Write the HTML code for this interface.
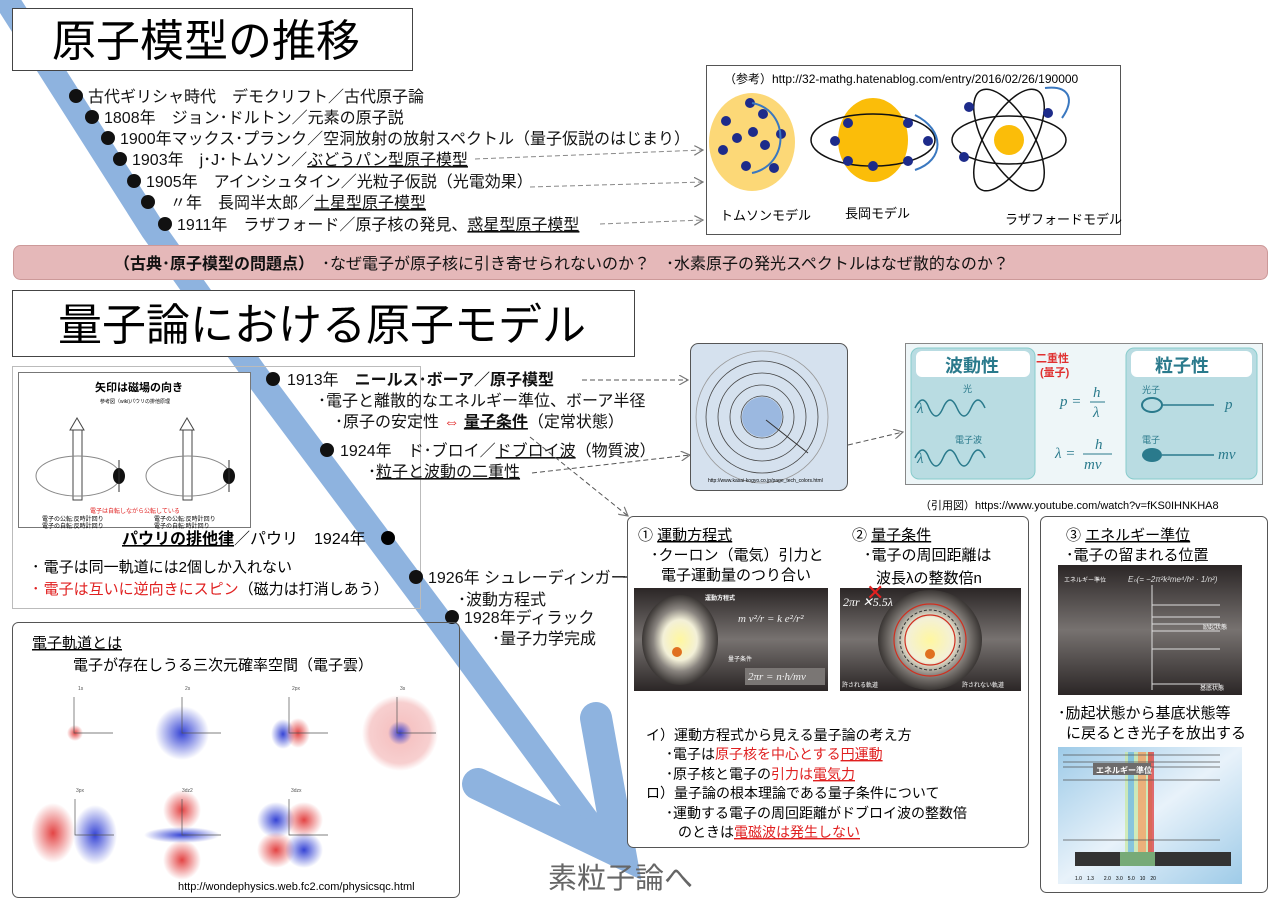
<!DOCTYPE html>
<html><head><meta charset="utf-8">
<style>
html,body{margin:0;padding:0;background:#fff;}
svg{display:block;font-family:"Liberation Sans","Noto Sans CJK JP",sans-serif;}
</style></head><body>
<svg width="1280" height="904" viewBox="0 0 1280 904" xmlns="http://www.w3.org/2000/svg">
<defs>
<radialGradient id="gy" cx="50%" cy="50%" r="50%"><stop offset="0" stop-color="#fff7a0"/><stop offset="0.45" stop-color="#f3f0d8"/><stop offset="0.7" stop-color="#8a8580"/><stop offset="1" stop-color="#3a3634"/></radialGradient>
<linearGradient id="dk" x1="0" y1="0" x2="0" y2="1"><stop offset="0" stop-color="#2b2626"/><stop offset="0.5" stop-color="#777270"/><stop offset="1" stop-color="#2b2626"/></linearGradient>
<linearGradient id="sp" x1="0" y1="0" x2="1" y2="1"><stop offset="0" stop-color="#9ecbe8"/><stop offset="0.5" stop-color="#e8f2fa"/><stop offset="1" stop-color="#9ecbe8"/></linearGradient>
<radialGradient id="rb" r="50%"><stop offset="0" stop-color="#e03030" stop-opacity="0.9"/><stop offset="1" stop-color="#e03030" stop-opacity="0"/></radialGradient>
<radialGradient id="bb" r="50%"><stop offset="0" stop-color="#2030d0" stop-opacity="0.9"/><stop offset="1" stop-color="#2030d0" stop-opacity="0"/></radialGradient>
<radialGradient id="rs" r="50%"><stop offset="0" stop-color="#e04040" stop-opacity="0.35"/><stop offset="0.8" stop-color="#e04040" stop-opacity="0.25"/><stop offset="1" stop-color="#e04040" stop-opacity="0"/></radialGradient>
<marker id="ah" markerWidth="10" markerHeight="10" refX="9" refY="5" orient="auto"><path d="M0,0 L9,5 L0,10" fill="none" stroke="#777" stroke-width="1.2"/></marker>
</defs>

<!-- blue timeline band -->
<polyline points="4,-4 153,230 256,375 437,617 605,845" fill="none" stroke="#8eb3df" stroke-width="25" stroke-linejoin="round"/>
<polyline points="478,784 620,852 596,718" fill="none" stroke="#8eb3df" stroke-width="32" stroke-linecap="round" stroke-linejoin="miter"/>

<!-- title 1 -->
<rect x="12.5" y="8.5" width="400" height="62" fill="#fff" stroke="#444"/>
<text x="52" y="56" font-size="44">原子模型の推移</text>

<g font-size="16" fill="#111">
<circle cx="76" cy="96" r="7"/><text x="88" y="102">古代ギリシャ時代　デモクリフト／古代原子論</text>
<circle cx="92" cy="117" r="7"/><text x="104" y="123">1808年　ジョン･ドルトン／元素の原子説</text>
<circle cx="108" cy="138" r="7"/><text x="120" y="144">1900年マックス･プランク／空洞放射の放射スペクトル（量子仮説のはじまり）</text>
<circle cx="120" cy="159" r="7"/><text x="132" y="165">1903年　j･J･トムソン／<tspan text-decoration="underline">ぶどうパン型原子模型</tspan></text>
<circle cx="134" cy="181" r="7"/><text x="146" y="187">1905年　アインシュタイン／光粒子仮説（光電効果）</text>
<circle cx="148" cy="202" r="7"/><text x="170" y="208">〃年　長岡半太郎／<tspan text-decoration="underline">土星型原子模型</tspan></text>
<circle cx="165" cy="224" r="7"/><text x="177" y="230">1911年　ラザフォード／原子核の発見、<tspan text-decoration="underline">惑星型原子模型</tspan></text>
</g>
<g stroke="#888" stroke-dasharray="5,3" fill="none" marker-end="url(#ah)">
<line x1="475" y1="159" x2="703" y2="150"/>
<line x1="530" y1="187" x2="703" y2="182"/>
<line x1="600" y1="224" x2="703" y2="220"/>
</g>

<!-- reference box -->
<rect x="706.5" y="65.5" width="414" height="169" fill="#fff" stroke="#555"/>
<text x="724" y="83" font-size="12">（参考）http://32-mathg.hatenablog.com/entry/2016/02/26/190000</text>
<ellipse cx="752" cy="142" rx="43" ry="49" fill="#fcd877"/>
<g fill="#1d2b8a">
<circle cx="750" cy="103" r="5"/><circle cx="763" cy="114" r="5"/><circle cx="726" cy="121" r="5"/><circle cx="753" cy="132" r="5"/><circle cx="737" cy="138" r="5"/><circle cx="765" cy="145" r="5"/><circle cx="781" cy="134" r="5"/><circle cx="723" cy="150" r="5"/><circle cx="746" cy="166" r="5"/><circle cx="774" cy="168" r="5"/>
</g>
<path d="M752,103 C790,110 790,165 752,173" fill="none" stroke="#3a78c0" stroke-width="2"/>
<ellipse cx="873" cy="140" rx="35" ry="42" fill="#fbbd09"/>
<ellipse cx="873" cy="140" rx="62" ry="26" fill="none" stroke="#111" stroke-width="1.5"/>
<g fill="#1d2b8a"><circle cx="835" cy="141" r="5"/><circle cx="848" cy="123" r="5"/><circle cx="908" cy="123" r="5"/><circle cx="928" cy="141" r="5"/><circle cx="848" cy="161" r="5"/><circle cx="873" cy="166" r="5"/><circle cx="908" cy="161" r="5"/></g>
<path d="M915,115 C945,130 945,160 915,170" fill="none" stroke="#3a78c0" stroke-width="2"/>
<g fill="none" stroke="#111" stroke-width="1.5">
<ellipse cx="1009" cy="140" rx="57" ry="24"/>
<ellipse cx="1009" cy="140" rx="57" ry="24" transform="rotate(60 1009 140)"/>
<ellipse cx="1009" cy="140" rx="57" ry="24" transform="rotate(-60 1009 140)"/>
</g>
<circle cx="1009" cy="140" r="15" fill="#fbbd09"/>
<g fill="#1d2b8a"><circle cx="969" cy="107" r="5"/><circle cx="1048" cy="113" r="5"/><circle cx="964" cy="157" r="5"/></g>
<path d="M1045,88 C1070,85 1075,100 1062,118" fill="none" stroke="#3a78c0" stroke-width="2"/>
<g font-size="13"><text x="720" y="220">トムソンモデル</text><text x="845" y="218">長岡モデル</text><text x="1005" y="224">ラザフォードモデル</text></g>

<!-- pink bar -->
<rect x="13.5" y="245.5" width="1254" height="34" rx="7" fill="#e5b8b9" stroke="#c99"/>
<text x="114" y="269" font-size="16" fill="#111"><tspan font-weight="bold">（古典･原子模型の問題点）</tspan>　･なぜ電子が原子核に引き寄せられないのか？　･水素原子の発光スペクトルはなぜ散的なのか？</text>

<!-- title 2 -->
<rect x="12.5" y="290.5" width="622" height="66" fill="#fff" stroke="#444"/>
<text x="58" y="340" font-size="44">量子論における原子モデル</text>

<!-- Pauli box -->
<rect x="12.5" y="366.5" width="408" height="242" fill="none" stroke="#bbb"/>
<rect x="18.5" y="372.5" width="232" height="155" fill="#fff" stroke="#777"/>
<text x="95" y="391" font-size="11" font-weight="bold">矢印は磁場の向き</text>
<text x="100" y="403" font-size="5">参考図（wiki)パウリの排他原理</text>
<g fill="#fff" stroke="#444"><rect x="73" y="428" width="9" height="72"/><path d="M70,430 L77,418 L84,430 Z"/><rect x="183" y="428" width="9" height="72"/><path d="M180,430 L187,418 L194,430 Z"/></g>
<ellipse cx="78" cy="476" rx="42" ry="20" fill="none" stroke="#888"/>
<ellipse cx="188" cy="476" rx="42" ry="20" fill="none" stroke="#888"/>
<ellipse cx="119" cy="476" rx="6" ry="8" fill="#111"/><ellipse cx="229" cy="476" rx="6" ry="8" fill="#111"/>
<line x1="119" y1="460" x2="119" y2="492" stroke="#333"/><line x1="229" y1="460" x2="229" y2="492" stroke="#333"/>
<text x="90" y="513" font-size="6" fill="#e02020">電子は自転しながら公転している</text>
<g font-size="6"><text x="42" y="521">電子の公転:反時計回り</text><text x="154" y="521">電子の公転:反時計回り</text><text x="42" y="528">電子の自転:反時計回り</text><text x="154" y="528">電子の自転:時計回り</text></g>
<text x="122" y="544" font-size="16"><tspan font-weight="bold" text-decoration="underline">パウリの排他律</tspan>／パウリ　1924年</text>
<circle cx="388" cy="538" r="7"/>
<text x="32" y="572" font-size="15">･ 電子は同一軌道には2個しか入れない</text>
<text x="32" y="594" font-size="15"><tspan fill="#e02020">･ 電子は互いに逆向きにスピン</tspan>（磁力は打消しあう）</text>

<!-- Bohr section -->
<g font-size="16" fill="#111">
<circle cx="273" cy="379" r="7"/><text x="287" y="385">1913年　<tspan font-weight="bold">ニールス･ボーア／原子模型</tspan></text>
<text x="318" y="406">･電子と離散的なエネルギー準位、ボーア半径</text>
<text x="335" y="427">･原子の安定性 <tspan fill="#e02020">⇔</tspan> <tspan font-weight="bold" text-decoration="underline">量子条件</tspan>（定常状態）</text>
<circle cx="327" cy="450" r="7"/><text x="340" y="456">1924年　ド･ブロイ／<tspan text-decoration="underline">ドブロイ波</tspan>（物質波）</text>
<text x="368" y="477">･<tspan text-decoration="underline">粒子と波動の二重性</tspan></text>
<circle cx="416" cy="577" r="7"/><text x="428" y="583">1926年 シュレーディンガー</text>
<text x="458" y="605">･波動方程式</text>
<circle cx="452" cy="617" r="7"/><text x="464" y="623">1928年ディラック</text>
<text x="492" y="644">･量子力学完成</text>
</g>
<line x1="623" y1="577" x2="630" y2="577" stroke="#333" stroke-width="1.5"/>
<g stroke="#555" stroke-dasharray="5,3" fill="none" marker-end="url(#ah)">
<line x1="582" y1="380" x2="688" y2="380"/>
<line x1="532" y1="473" x2="690" y2="455"/>
<line x1="848" y1="445" x2="903" y2="432"/>
<line x1="530" y1="437" x2="628" y2="516"/>
</g>

<!-- Bohr image -->
<rect x="690.5" y="343.5" width="157" height="147" rx="8" fill="#d5e1ee" stroke="#555"/>
<g fill="none" stroke="#444" stroke-width="0.8"><circle cx="762" cy="417" r="21"/><circle cx="762" cy="417" r="32"/><circle cx="762" cy="417" r="44"/><circle cx="762" cy="417" r="56"/><circle cx="762" cy="417" r="66" stroke="#999"/></g>
<circle cx="762" cy="417" r="20" fill="#9bb8e0"/>
<line x1="766" y1="420" x2="808" y2="453" stroke="#333"/>
<text x="708" y="482" font-size="5">http://www.kasai-kogyo.co.jp/page_tech_colors.html</text>

<!-- duality image -->
<rect x="905.5" y="343.5" width="357" height="141" fill="#eef6f8" stroke="#888"/>
<rect x="911" y="348" width="124" height="131" rx="8" fill="#b9dce2" stroke="#8cc"/>
<rect x="1126" y="348" width="131" height="131" rx="8" fill="#b9dce2" stroke="#8cc"/>
<rect x="916" y="351" width="114" height="26" rx="6" fill="#fff"/>
<rect x="1131" y="351" width="121" height="26" rx="6" fill="#fff"/>
<text x="945" y="372" font-size="18" font-weight="bold" fill="#2a7a8c">波動性</text>
<text x="1155" y="372" font-size="18" font-weight="bold" fill="#2a7a8c">粒子性</text>
<text x="1036" y="362" font-size="11" font-weight="bold" fill="#e03030">二重性</text>
<text x="1040" y="376" font-size="11" font-weight="bold" fill="#e03030">(量子)</text>
<g fill="none" stroke="#2a7a8c" stroke-width="1.5"><path d="M915,408 q8,-16 14,0 q7,16 14,0 q7,-16 14,0 q7,16 14,0 q7,-16 14,0"/><path d="M915,458 q8,-16 14,0 q7,16 14,0 q7,-16 14,0 q7,16 14,0 q7,-16 14,0"/></g>
<g font-family="Liberation Serif,serif" font-style="italic" fill="#2a7a8c" font-size="15">
<text x="917" y="413">λ</text><text x="917" y="463">λ</text>
<text x="1060" y="406">p =</text><text x="1093" y="397">h</text><line x1="1090" y1="402" x2="1105" y2="402" stroke="#2a7a8c"/><text x="1093" y="417">λ</text>
<text x="1055" y="458">λ =</text><text x="1095" y="449">h</text><line x1="1083" y1="454" x2="1112" y2="454" stroke="#2a7a8c"/><text x="1084" y="469">mv</text>
<text x="1225" y="409">p</text><text x="1218" y="459">mv</text>
</g>
<text x="963" y="392" font-size="9" fill="#2a7a8c">光</text><text x="955" y="443" font-size="9" fill="#2a7a8c">電子波</text>
<text x="1142" y="393" font-size="9" fill="#2a7a8c">光子</text><text x="1142" y="443" font-size="9" fill="#2a7a8c">電子</text>
<ellipse cx="1152" cy="405" rx="10" ry="7" fill="none" stroke="#2a7a8c" stroke-width="2"/><line x1="1162" y1="405" x2="1214" y2="405" stroke="#2a7a8c" stroke-width="1.5"/>
<ellipse cx="1152" cy="455" rx="10" ry="7" fill="#2a7a8c"/><line x1="1162" y1="455" x2="1214" y2="455" stroke="#2a7a8c" stroke-width="1.5"/>
<text x="920" y="509" font-size="11">（引用図）https://www.youtube.com/watch?v=fKS0IHNKHA8</text>

<!-- box 1/2 -->
<rect x="627.5" y="516.5" width="401" height="331" rx="6" fill="#fff" stroke="#555"/>
<g font-size="15">
<text x="638" y="540">① <tspan text-decoration="underline">運動方程式</tspan></text>
<text x="651" y="560">･クーロン（電気）引力と</text>
<text x="661" y="580">電子運動量のつり合い</text>
<text x="852" y="540">② <tspan text-decoration="underline">量子条件</tspan></text>
<text x="864" y="560">･電子の周回距離は</text>
<text x="876" y="583">波長λの整数倍n</text>
</g>
<rect x="634" y="588" width="194" height="103" fill="url(#dk)"/>
<ellipse cx="680" cy="640" rx="38" ry="45" fill="url(#gy)"/>
<circle cx="677" cy="652" r="5" fill="#e07020"/>
<text x="705" y="600" font-size="6" fill="#fff" font-weight="bold">運動方程式</text>
<text x="738" y="622" font-size="11" fill="#eee" font-family="Liberation Serif,serif" font-style="italic">m v²/r = k e²/r²</text>
<text x="728" y="661" font-size="6" fill="#fff">量子条件</text>
<rect x="745" y="668" width="80" height="17" fill="#7a7674"/>
<text x="748" y="680" font-size="11" fill="#eee" font-family="Liberation Serif,serif" font-style="italic">2πr = n·h/mv</text>
<rect x="840" y="588" width="181" height="103" fill="url(#dk)"/>
<ellipse cx="930" cy="640" rx="52" ry="50" fill="url(#gy)"/>
<circle cx="930" cy="640" r="36" fill="none" stroke="#d03020" stroke-width="1.2"/>
<circle cx="930" cy="640" r="25" fill="none" stroke="#d03020" stroke-width="1.2"/>
<circle cx="930" cy="640" r="30" fill="none" stroke="#333" stroke-dasharray="3,2"/>
<circle cx="930" cy="654" r="5" fill="#e07020"/>
<text x="843" y="606" font-size="12" fill="#fff" font-family="Liberation Serif,serif" font-style="italic">2πr ✕5.5λ</text>
<text x="866" y="600" font-size="22" fill="#e02020">✕</text>
<text x="842" y="687" font-size="6" fill="#fff">許される軌道</text><text x="962" y="687" font-size="6" fill="#fff">許されない軌道</text>
<g font-size="14">
<text x="646" y="740">イ）運動方程式から見える量子論の考え方</text>
<text x="666" y="759">･電子は<tspan fill="#e02020">原子核を中心とする<tspan text-decoration="underline">円運動</tspan></tspan></text>
<text x="666" y="779">･原子核と電子の<tspan fill="#e02020">引力は<tspan text-decoration="underline">電気力</tspan></tspan></text>
<text x="646" y="798">ロ）量子論の根本理論である量子条件について</text>
<text x="666" y="818">･運動する電子の周回距離がドブロイ波の整数倍</text>
<text x="678" y="837">のときは<tspan fill="#e02020" text-decoration="underline">電磁波は発生しない</tspan></text>
</g>

<!-- box 3 -->
<rect x="1040.5" y="516.5" width="227" height="376" rx="6" fill="#fff" stroke="#555"/>
<g font-size="15">
<text x="1066" y="540">③ <tspan text-decoration="underline">エネルギー準位</tspan></text>
<text x="1066" y="560">･電子の留まれる位置</text>
<text x="1058" y="718">･励起状態から基底状態等</text>
<text x="1066" y="738">に戻るとき光子を放出する</text>
</g>
<rect x="1058" y="565" width="184" height="130" fill="url(#dk)"/>
<text x="1064" y="582" font-size="6" fill="#fff">エネルギー準位</text>
<text x="1128" y="582" font-size="8" fill="#ddd" font-style="italic">Eₙ(= −2π²k²me⁴/h² · 1/n²)</text>
<line x1="1152" y1="585" x2="1152" y2="690" stroke="#ddd"/>
<g stroke="#ddd"><line x1="1152" y1="605" x2="1220" y2="605"/><line x1="1152" y1="617" x2="1220" y2="617"/><line x1="1152" y1="624" x2="1220" y2="624"/><line x1="1152" y1="631" x2="1220" y2="631"/><line x1="1152" y1="649" x2="1220" y2="649"/><line x1="1152" y1="684" x2="1220" y2="684"/></g>
<text x="1203" y="629" font-size="6" fill="#fff">励起状態</text><text x="1200" y="690" font-size="6" fill="#fff">基底状態</text>
<rect x="1058" y="747" width="184" height="137" fill="url(#sp)"/>
<rect x="1125" y="752" width="27" height="100" fill="#c8e8a0" opacity="0.7"/>
<rect x="1138" y="752" width="8" height="100" fill="#ff8a50" opacity="0.6"/>
<rect x="1148" y="752" width="6" height="100" fill="#e03030" opacity="0.7"/>
<rect x="1128" y="752" width="6" height="100" fill="#40a0ff" opacity="0.5"/>
<g stroke="#555" stroke-width="0.8"><line x1="1063" y1="755" x2="1220" y2="755"/><line x1="1063" y1="762" x2="1220" y2="762"/><line x1="1063" y1="767" x2="1220" y2="767"/><line x1="1063" y1="780" x2="1220" y2="780"/><line x1="1063" y1="840" x2="1220" y2="840"/></g>
<rect x="1093" y="763" width="58" height="12" fill="#6d6b6b"/><text x="1096" y="773" font-size="8" fill="#fff" font-weight="bold">エネルギー準位</text>
<rect x="1075" y="852" width="156" height="14" fill="#333"/>
<rect x="1120" y="852" width="35" height="14" fill="#7a7"/>
<text x="1075" y="880" font-size="5">1.0　1.3　　2.0　3.0　5.0　10　20</text>

<!-- orbitals -->
<rect x="12.5" y="622.5" width="447" height="275" rx="6" fill="none" stroke="#555"/>
<text x="32" y="648" font-size="15"><tspan text-decoration="underline">電子軌道とは</tspan></text>
<text x="73" y="670" font-size="15">電子が存在しうる三次元確率空間（電子雲）</text>
<g font-size="5" fill="#555">
<text x="78" y="690">1s</text><text x="185" y="690">2s</text><text x="292" y="690">2px</text><text x="400" y="690">3s</text>
<text x="76" y="792">3px</text><text x="182" y="792">3dz2</text><text x="291" y="792">3dzx</text>
</g>
<circle cx="400" cy="733" r="38" fill="url(#rs)"/>
<circle cx="182" cy="733" r="27" fill="url(#bb)"/>
<circle cx="75" cy="733" r="8" fill="url(#rb)"/>
<ellipse cx="283" cy="734" rx="12" ry="15" fill="url(#bb)"/><ellipse cx="298" cy="733" rx="12" ry="15" fill="url(#rb)"/>
<circle cx="400" cy="733" r="12" fill="url(#bb)"/>
<ellipse cx="53" cy="833" rx="22" ry="30" fill="url(#rb)"/><ellipse cx="95" cy="835" rx="22" ry="30" fill="url(#bb)"/>
<ellipse cx="182" cy="810" rx="19" ry="20" fill="url(#rb)"/><ellipse cx="182" cy="860" rx="19" ry="20" fill="url(#rb)"/><ellipse cx="182" cy="835" rx="38" ry="8" fill="url(#bb)"/>
<ellipse cx="276" cy="820" rx="19" ry="18" fill="url(#bb)"/><ellipse cx="304" cy="820" rx="19" ry="18" fill="url(#rb)"/><ellipse cx="276" cy="850" rx="19" ry="18" fill="url(#rb)"/><ellipse cx="304" cy="850" rx="19" ry="18" fill="url(#bb)"/>
<g stroke="#555" stroke-width="0.7" fill="none">
<path d="M74,697 V733 H113"/><path d="M182,697 V733 H221"/><path d="M289,697 V733 H328"/><path d="M397,697 V733 H436"/>
<path d="M75,799 V835 H114"/><path d="M182,799 V835 H221"/><path d="M289,799 V835 H328"/>
</g>
<text x="178" y="890" font-size="11">http://wondephysics.web.fc2.com/physicsqc.html</text>

<text x="548" y="888" font-size="29" fill="#666">素粒子論へ</text>
</svg>
</body></html>
